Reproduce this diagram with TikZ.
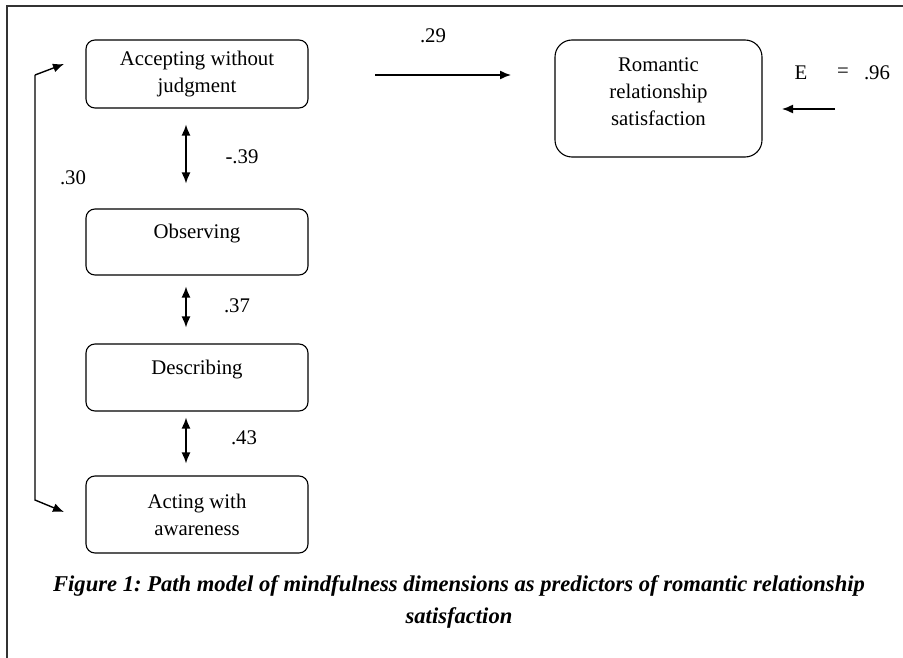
\documentclass[tikz,border=0pt]{standalone}
\usepackage{fontspec}
\setmainfont{Liberation Serif}
\usetikzlibrary{arrows.meta,calc}
\frenchspacing
\begin{document}
\begin{tikzpicture}[x=1pt,y=-1pt,
  box/.style={draw,rounded corners=9pt,line width=1.1pt,minimum width=222pt,inner sep=0pt,align=center,font=\fontsize{20.8}{27}\selectfont},
  lbl/.style={font=\fontsize{20.8}{24}\selectfont,inner sep=0pt},
  arr/.style={line width=1.4pt,-{Latex[length=11pt,width=9pt]}},
  dbl/.style={line width=1.4pt,{Latex[length=11pt,width=9pt]}-{Latex[length=11pt,width=9pt]}}]
\useasboundingbox (0,0) rectangle (903,658);
\draw[line width=2.5pt,color=black!80] (7,658) -- (7,6) -- (903,6);
% nodes
\node[box,minimum height=68pt] (acc) at (197,74) {Accepting without\\judgment};
\node[box,minimum height=66pt,label={[lbl,yshift=8pt]center:Observing}] (obs) at (197,242) {};
\node[box,minimum height=67pt,label={[lbl,yshift=8pt]center:Describing}] (des) at (197,377.5) {};
\node[box,minimum height=77pt] (act) at (197,514.5) {Acting with\\awareness};
\node[box,minimum width=207pt,minimum height=117pt,rounded corners=17pt,text depth=14pt] (rom) at (658.5,98.5) {Romantic\\relationship\\satisfaction};
% double arrows
\draw[dbl] ([xshift=-11pt,yshift=-16pt]acc.south) -- ([xshift=-11pt,yshift=25pt]obs.north);
\draw[dbl] ([xshift=-11pt,yshift=-11pt]obs.south) -- ([xshift=-11pt,yshift=16pt]des.north);
\draw[dbl] ([xshift=-11pt,yshift=-6pt]des.south) -- ([xshift=-11pt,yshift=12pt]act.north);
\node[lbl] (l39) at (242,157) {-.39};
\node[lbl] (l37) at (237,306) {.37};
\node[lbl] (l43) at (244,438) {.43};
% path to outcome
\coordinate (p1) at (375,75);
\coordinate (p2) at (511,75);
\draw[arr] (p1) -- (p2);
\node[lbl] (l29) at (433,36) {.29};
% error
\coordinate (e1) at (835,109);
\coordinate (e2) at (782,109);
\draw[arr] (e1) -- (e2);
\node[lbl] (E) at (801,73) {E};
\node[lbl] (eq) at (843,73) {=};
\node[lbl] (l96) at (877,73) {.96};
% covariance bracket
\coordinate (b1) at (35,75);
\coordinate (b2) at (35,500);
\coordinate (t1) at (64,64);
\coordinate (t2) at (64,512);
\draw[arr] (b1) -- (t1);
\draw[arr] (b1) -- (b2) -- (t2);
\node[lbl] (l30) at (73,178) {.30};
% caption
\node[font=\fontsize{22.6}{32}\selectfont\bfseries\itshape,align=center,inner sep=0pt] (cap) at (459,602)
 {Figure 1: Path model of mindfulness dimensions as predictors of romantic relationship\\satisfaction};
\end{tikzpicture}
\end{document}
